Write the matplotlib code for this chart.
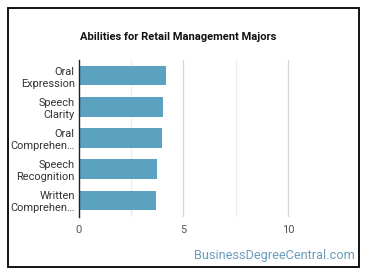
import matplotlib
matplotlib.use("Agg")
import matplotlib.pyplot as plt
from matplotlib.patches import Rectangle

plt.rcParams["font.family"] = ["Roboto", "DejaVu Sans"]

# data
abilities = ["Oral\nExpression", "Speech\nClarity", "Oral\nComprehen…",
             "Speech\nRecognition", "Written\nComprehen…"]
scores = [4.18, 4.02, 3.97, 3.73, 3.67]
x_ticks = [0, 5, 10]

BAR = "#5ba2c1"

fig = plt.figure(figsize=(3.70, 2.78), dpi=100)
ax = fig.add_axes([79 / 370, 1 - 217 / 278, (340 - 79) / 370, (217 - 60) / 278])

ypos = list(range(len(abilities)))
ax.barh(ypos, scores, height=0.63, color=BAR, zorder=3)
ax.set_ylim(len(abilities) - 0.47, -0.5)
ax.set_xlim(0, 12.5)

# gridlines only up to 10, minor ones lighter
for gx in [2.5, 5, 7.5, 10]:
    col = "#d6d6d6" if gx in (5, 10) else "#ececec"
    ax.axvline(gx, color=col, lw=0.9, zorder=1)

ax.set_xticks(x_ticks)
ax.set_yticks(ypos)
ax.set_yticklabels(abilities, fontsize=7.9, color="#333333", linespacing=1.25)
ax.tick_params(axis="x", length=0, labelsize=8, labelcolor="#555555", pad=6)
ax.tick_params(axis="y", length=0, pad=3)
for s in ["top", "right", "bottom"]:
    ax.spines[s].set_visible(False)
ax.spines["left"].set_color("#222222")
ax.spines["left"].set_linewidth(1.0)
ax.spines["left"].set_zorder(4)

fig.text(178 / 370, 1 - 37 / 278, "Abilities for Retail Management Majors",
         ha="center", va="center", fontsize=8, fontweight="bold", color="#111111")
fig.text(355 / 370, 1 - 256 / 278, "BusinessDegreeCentral.com",
         ha="right", va="center", fontsize=9.2, color="#6a9cbc")

fig.patches.append(Rectangle((8 / 370, 1 - 267 / 278), (359 - 8) / 370, (267 - 8) / 278,
                             transform=fig.transFigure, fill=False, ec="#000000", lw=1.3))

fig.savefig("out.png", dpi=100, facecolor="white")
